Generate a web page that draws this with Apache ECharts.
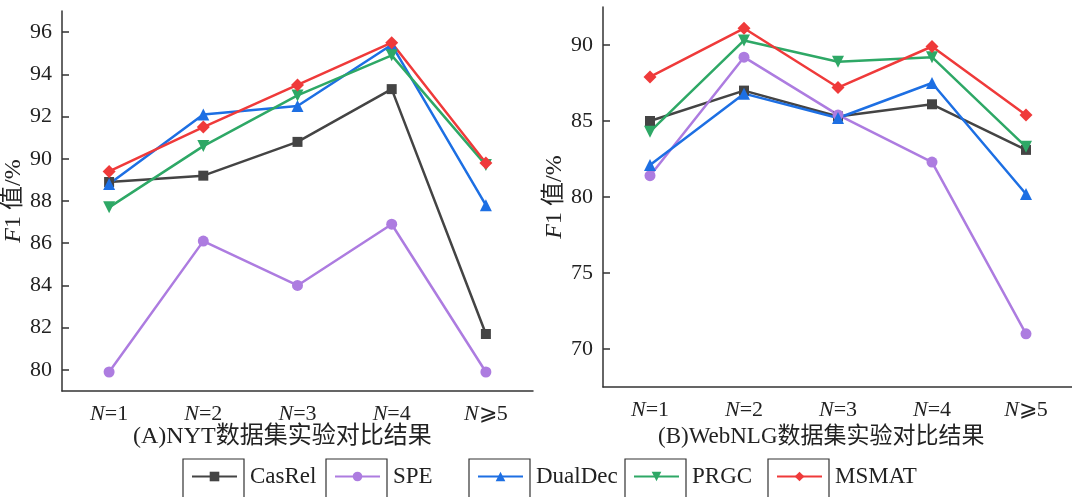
<!DOCTYPE html>
<html>
<head>
<meta charset="utf-8">
<script src="https://cdn.jsdelivr.net/npm/echarts@6/dist/echarts.min.js"></script>
<style>
  html, body { margin: 0; padding: 0; background: #fff; }
  #chart { width: 1072px; height: 497px; }
</style>
</head>
<body>
<div id="chart"></div>
<script>
const FONT = "'Liberation Serif', 'Times New Roman', 'Noto Sans CJK SC', serif"
const AXIS_COLOR = '#333'
const TEXT_COLOR = '#222'

const categories = ['N=1', 'N=2', 'N=3', 'N=4', 'N⩾5']
const seriesNames = ['CasRel', 'SPE', 'DualDec', 'PRGC', 'MSMAT']

// (A) NYT
const nytCasRel = [88.9, 89.2, 90.8, 93.3, 81.7]
const nytSPE = [79.9, 86.1, 84.0, 86.9, 79.9]
const nytDualDec = [88.8, 92.1, 92.5, 95.4, 87.8]
const nytPRGC = [87.7, 90.6, 93.0, 94.9, 89.7]
const nytMSMAT = [89.4, 91.5, 93.5, 95.5, 89.8]

// (B) WebNLG
const webCasRel = [85.0, 87.0, 85.3, 86.1, 83.1]
const webSPE = [81.4, 89.2, 85.4, 82.3, 71.0]
const webDualDec = [82.1, 86.8, 85.2, 87.5, 80.2]
const webPRGC = [84.3, 90.3, 88.9, 89.2, 83.3]
const webMSMAT = [87.9, 91.1, 87.2, 89.9, 85.4]

const nytTicks = [80, 82, 84, 86, 88, 90, 92, 94, 96]
const webTicks = [70, 75, 80, 85, 90]

const STYLES = {
  CasRel: { color: '#444444', symbol: 'rect', size: 10, rotate: 0 },
  SPE: { color: '#ad7ce0', symbol: 'circle', size: 11, rotate: 0 },
  DualDec: { color: '#1d6fe3', symbol: 'triangle', size: 12, rotate: 0 },
  PRGC: { color: '#2ea866', symbol: 'triangle', size: 12, rotate: 180 },
  MSMAT: { color: '#ef3a3a', symbol: 'diamond', size: 13, rotate: 0 },
}

const nytData = [nytCasRel, nytSPE, nytDualDec, nytPRGC, nytMSMAT]
const webData = [webCasRel, webSPE, webDualDec, webPRGC, webMSMAT]

function makeSeries(values, name, axisIndex) {
  const s = STYLES[name]
  return {
    name,
    type: 'line',
    xAxisIndex: axisIndex,
    yAxisIndex: axisIndex,
    data: values,
    symbol: s.symbol,
    symbolSize: s.size,
    symbolRotate: s.rotate,
    lineStyle: { color: s.color, width: 2.5 },
    itemStyle: { color: s.color },
    emphasis: { disabled: true },
  }
}

function rich(size) {
  return {
    i: { fontFamily: FONT, fontSize: size, fontStyle: 'italic', color: TEXT_COLOR },
    n: { fontFamily: FONT, fontSize: size, color: TEXT_COLOR },
  }
}

function xAxisFor(gridIndex) {
  return {
    type: 'category',
    gridIndex,
    data: categories,
    boundaryGap: true,
    axisLine: { lineStyle: { color: AXIS_COLOR, width: 1.5 } },
    axisTick: { inside: true, alignWithLabel: true, length: 7, lineStyle: { color: AXIS_COLOR, width: 1.5 } },
    axisLabel: {
      margin: 12,
      formatter: v => '{i|' + v.charAt(0) + '}{n|' + v.slice(1) + '}',
      rich: rich(22),
    },
    splitLine: { show: false },
  }
}

function yAxisFor(gridIndex, min, max, ticks, nameGap) {
  return {
    type: 'value',
    gridIndex,
    min,
    max,
    name: '{i|F}{n|1 值/%}',
    nameLocation: 'middle',
    nameGap,
    nameTextStyle: { rich: rich(24) },
    axisLine: { show: true, lineStyle: { color: AXIS_COLOR, width: 1.5 } },
    axisTick: { show: true, inside: true, length: 7, customValues: ticks, lineStyle: { color: AXIS_COLOR, width: 1.5 } },
    axisLabel: { margin: 10, customValues: ticks, fontFamily: FONT, fontSize: 22, color: TEXT_COLOR },
    splitLine: { show: false },
  }
}

const boxLefts = [183, 326, 469, 625, 768]
const LEGEND_TOP = 465

const titleStyle = { fontFamily: FONT, fontSize: 23, fontWeight: 'normal', color: TEXT_COLOR }

const chart = echarts.init(document.getElementById('chart'))
chart.setOption({
  animation: false,
  title: [
    { text: '(A)NYT数据集实验对比结果', left: 133, top: 425,
      textStyle: { ...titleStyle, fontSize: 24 }, padding: 0 },
    { text: '(B)WebNLG数据集实验对比结果', left: 658, top: 425, textStyle: titleStyle, padding: 0 },
  ],
  legend: seriesNames.map((name, i) => ({
    data: [name],
    left: boxLefts[i] + 8,
    top: LEGEND_TOP,
    padding: 0,
    itemWidth: 45,
    itemHeight: 12,
    selectedMode: false,
    textStyle: { fontFamily: FONT, fontSize: 23, color: TEXT_COLOR, padding: [0, 0, 0, 8] },
  })),
  graphic: boxLefts.map(x => ({
    type: 'rect',
    silent: true,
    shape: { x, y: 459, width: 61, height: 46 },
    style: { fill: 'none', stroke: '#333', lineWidth: 1.2 },
  })),
  grid: [
    { left: 62, top: 11, width: 471, height: 380, outerBoundsMode: 'none' },
    { left: 603, top: 7, width: 470, height: 380, outerBoundsMode: 'none' },
  ],
  xAxis: [xAxisFor(0), xAxisFor(1)],
  yAxis: [yAxisFor(0, 79, 97, nytTicks, 33), yAxisFor(1, 67.5, 92.5, webTicks, 36)],
  series: [
    ...seriesNames.map((name, i) => makeSeries(nytData[i], name, 0)),
    ...seriesNames.map((name, i) => makeSeries(webData[i], name, 1)),
  ],
})
</script>
</body>
</html>
